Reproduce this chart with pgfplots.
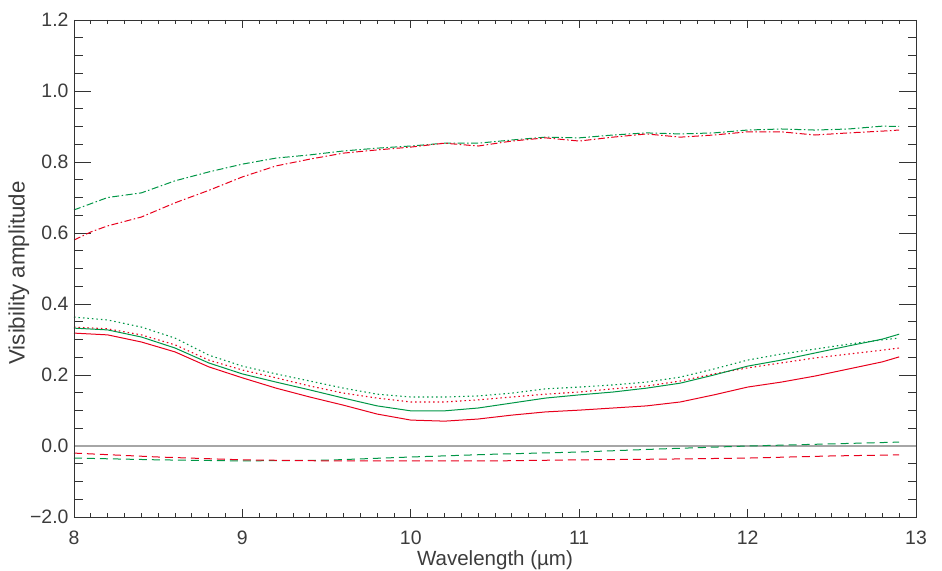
\documentclass[border=0pt]{standalone}
\usepackage{fontspec}
\setmainfont{Liberation Sans}
\usepackage{pgfplots}
\pgfplotsset{compat=1.18}
\definecolor{cgreen}{RGB}{0,150,70}
\definecolor{cred}{RGB}{232,0,28}
\definecolor{ctext}{RGB}{60,60,60}
\pgfplotsset{
  base/.style={
    scale only axis, width=842bp, height=497bp,
    xmin=8, xmax=13, ymin=-0.2, ymax=1.2,
    tick align=inside, tick pos=both,
    every tick/.style={black!80, line width=0.8bp},
    axis line style={black!80, line width=0.9bp},
    /pgf/number format/assume math mode=true,
    tick label style={font=\fontsize{19.5}{22}\selectfont, text=ctext},
  }
}
\begin{document}
\begin{tikzpicture}
\begin{axis}[base,
  xtick=\empty,
  ytick={-0.2,0,0.2,0.4,0.6,0.8,1.0,1.2}, minor y tick num=3,
  yticklabels={−2.0,0.0,0.2,0.4,0.6,0.8,1.0,1.2},
  major tick length=17bp, minor tick length=8.5bp,
  yticklabel style={xshift=-2bp},
  ylabel={Visibility amplitude},
  ylabel style={font=\fontsize{22.4}{24}\selectfont, text=ctext, yshift=-6bp, xshift=-4.5bp},
]
\addplot[black!35, line width=1.3bp, forget plot] coordinates {(8,0) (13,0)};
% green dash-dot
\addplot[cgreen, line width=1bp, dash pattern=on 7bp off 2.5bp on 1.5bp off 2.5bp] coordinates {
(8.0,0.665)(8.2,0.700)(8.4,0.713)(8.6,0.747)(8.8,0.772)(9.0,0.794)(9.2,0.811)(9.4,0.820)(9.6,0.831)(9.8,0.839)(10.0,0.845)(10.2,0.853)(10.4,0.853)(10.6,0.862)(10.8,0.870)(11.0,0.868)(11.2,0.876)(11.4,0.882)(11.6,0.879)(11.8,0.882)(12.0,0.890)(12.2,0.893)(12.4,0.890)(12.6,0.893)(12.8,0.901)(12.9,0.900)};
% red dash-dot
\addplot[cred, line width=1bp, dash pattern=on 7bp off 2.5bp on 1.5bp off 2.5bp] coordinates {
(8.0,0.580)(8.1,0.603)(8.2,0.620)(8.4,0.645)(8.6,0.685)(8.8,0.720)(9.0,0.758)(9.2,0.789)(9.4,0.808)(9.6,0.825)(9.8,0.834)(10.0,0.842)(10.2,0.853)(10.4,0.845)(10.6,0.859)(10.8,0.868)(11.0,0.859)(11.2,0.870)(11.4,0.879)(11.6,0.870)(11.8,0.876)(12.0,0.885)(12.2,0.885)(12.4,0.876)(12.6,0.882)(12.8,0.887)(12.9,0.890)};
% green dotted
\addplot[cgreen, line width=1.1bp, dash pattern=on 1.5bp off 3bp] coordinates {
(8.0,0.363)(8.2,0.355)(8.4,0.335)(8.6,0.304)(8.8,0.256)(9.0,0.225)(9.2,0.203)(9.4,0.183)(9.6,0.163)(9.8,0.146)(10.0,0.138)(10.2,0.138)(10.4,0.141)(10.6,0.149)(10.8,0.161)(11.0,0.166)(11.2,0.172)(11.4,0.180)(11.6,0.194)(11.8,0.217)(12.0,0.242)(12.2,0.259)(12.4,0.273)(12.6,0.287)(12.8,0.299)(12.9,0.304)};
% red dotted
\addplot[cred, line width=1.1bp, dash pattern=on 1.5bp off 3bp] coordinates {
(8.0,0.335)(8.2,0.330)(8.4,0.313)(8.6,0.285)(8.8,0.242)(9.0,0.214)(9.2,0.192)(9.4,0.169)(9.6,0.149)(9.8,0.135)(10.0,0.124)(10.2,0.124)(10.4,0.130)(10.6,0.138)(10.8,0.146)(11.0,0.152)(11.2,0.161)(11.4,0.169)(11.6,0.183)(11.8,0.203)(12.0,0.220)(12.2,0.234)(12.4,0.248)(12.6,0.259)(12.8,0.270)(12.9,0.276)};
% green solid
\addplot[cgreen, line width=1bp] coordinates {
(8.0,0.332)(8.2,0.327)(8.4,0.307)(8.6,0.276)(8.8,0.234)(9.0,0.203)(9.2,0.180)(9.4,0.158)(9.6,0.135)(9.8,0.113)(10.0,0.099)(10.2,0.099)(10.4,0.107)(10.6,0.121)(10.8,0.135)(11.0,0.144)(11.2,0.152)(11.4,0.163)(11.6,0.177)(11.8,0.200)(12.0,0.225)(12.2,0.242)(12.4,0.262)(12.6,0.282)(12.8,0.301)(12.9,0.315)};
% red solid
\addplot[cred, line width=1bp] coordinates {
(8.0,0.318)(8.2,0.313)(8.4,0.293)(8.6,0.265)(8.8,0.223)(9.0,0.192)(9.2,0.163)(9.4,0.138)(9.6,0.115)(9.8,0.090)(10.0,0.073)(10.2,0.070)(10.4,0.076)(10.6,0.087)(10.8,0.096)(11.0,0.101)(11.2,0.107)(11.4,0.113)(11.6,0.124)(11.8,0.144)(12.0,0.166)(12.2,0.180)(12.4,0.197)(12.6,0.217)(12.8,0.237)(12.9,0.251)};
% green dashed
\addplot[cgreen, line width=1bp, dash pattern=on 8bp off 5bp] coordinates {
(8.0,-0.034)(8.5,-0.039)(9.0,-0.042)(9.5,-0.040)(10.0,-0.031)(10.5,-0.023)(11.0,-0.017)(11.5,-0.008)(12.0,0.000)(12.5,0.006)(12.9,0.011)};
% red dashed
\addplot[cred, line width=1bp, dash pattern=on 8bp off 5bp] coordinates {
(8.0,-0.020)(8.5,-0.031)(9.0,-0.039)(9.5,-0.042)(10.0,-0.042)(10.5,-0.042)(11.0,-0.039)(11.5,-0.037)(12.0,-0.034)(12.5,-0.028)(12.9,-0.025)};
\end{axis}
\begin{axis}[base,
  ytick=\empty,
  xtick={8,9,10,11,12,13}, minor x tick num=9,
  xticklabels={8,9,10,11,12,13},
  major tick length=8bp, minor tick length=4.5bp,
  xticklabel style={yshift=-10.5bp},
  xlabel={Wavelength (µm)},
  xlabel style={font=\fontsize{20.6}{22}\selectfont, text=ctext, yshift=1bp},
]
\end{axis}
\pgfresetboundingbox
\useasboundingbox ([xshift=-74bp,yshift=-54bp]current axis.south west) rectangle ([xshift=26bp,yshift=20bp]current axis.north east);
\end{tikzpicture}
\end{document}
